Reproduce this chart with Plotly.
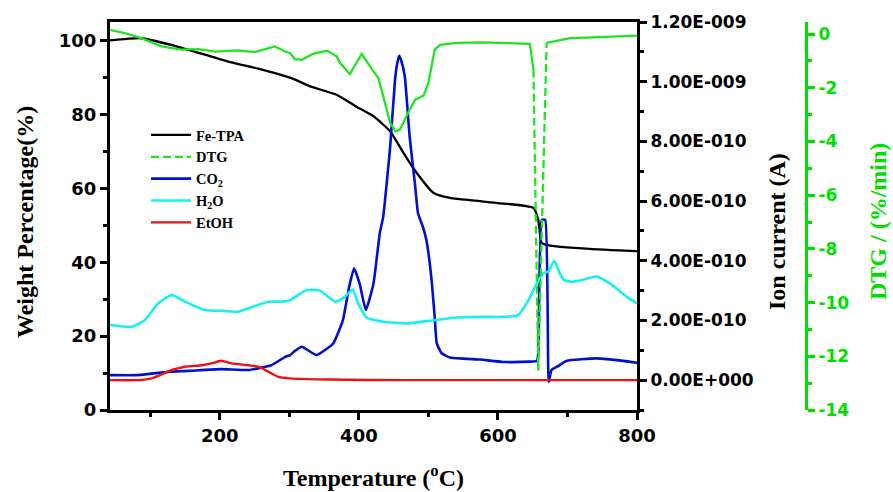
import plotly.graph_objects as go

# ---------------- data ----------------
# TGA weight loss of Fe-TPA (left axis, %)
tga_temp = [42, 87, 130, 212, 255, 303, 330, 368, 397, 421, 445, 464, 483, 507, 531, 574,
            600, 651, 658, 663, 675, 752, 800]
tga_weight = [100.0, 100.6, 98.8, 94.3, 92.4, 89.8, 87.6, 85.3, 82.0, 79.5, 75.4, 69.6, 64.2,
              58.8, 57.4, 56.5, 56.0, 54.7, 51.5, 45.2, 44.5, 43.4, 43.0]

# DTG (far right axis, %/min)
dtg_temp = [42, 63, 87, 116, 145, 169, 193, 226, 250, 279, 294, 301, 308, 318, 334, 354, 368,
            373, 387, 404, 421, 428, 440, 445, 453, 459, 466, 473, 481, 493, 500, 509, 517, 541,
            574, 646, 651, 658, 670, 704, 747, 800]
dtg_rate = [0.16, 0.04, -0.15, -0.46, -0.58, -0.56, -0.65, -0.61, -0.67, -0.46, -0.65, -0.71,
            -0.93, -0.96, -0.74, -0.62, -0.83, -1.08, -1.49, -0.74, -1.39, -1.64, -2.81, -3.31,
            -3.62, -3.56, -3.19, -2.81, -2.44, -2.29, -1.82, -0.58, -0.40, -0.33, -0.31, -0.36,
            -1.33, -12.54, -0.33, -0.15, -0.11, -0.06]
# the sharp DTG peak is drawn dashed between these temperatures
dtg_dash_start, dtg_dash_end = 651, 670

# MS ion currents (right axis), in units of 1e-10 A
co2_temp = [42, 82, 126, 154, 202, 241, 274, 294, 301, 308, 318, 339, 363, 377, 386, 393, 401,
            410, 421, 430, 435, 445, 452, 455, 458, 461, 466, 473, 481, 485, 492, 497, 502, 505,
            509, 512, 519, 531, 574, 608, 646, 656, 658, 663, 668, 673, 677, 685, 699, 742, 771,
            800]
co2_ion = [0.17, 0.17, 0.28, 0.31, 0.37, 0.34, 0.50, 0.78, 0.84, 0.98, 1.12, 0.84, 1.23, 2.01,
           3.13, 3.75, 3.24, 2.35, 3.24, 4.92, 5.48, 7.83, 10.07, 10.6, 10.87, 10.7, 10.18, 8.16,
           6.49, 5.59, 5.14, 4.70, 3.90, 3.24, 2.12, 1.23, 0.90, 0.76, 0.69, 0.61, 0.62, 0.64,
           0.90, 5.37, 5.37, -0.06, 0.34, 0.45, 0.65, 0.73, 0.67, 0.58]

h2o_temp = [42, 73, 92, 111, 131, 150, 178, 207, 226, 250, 270, 289, 301, 325, 344, 366, 380,
            391, 399, 411, 435, 469, 502, 541, 574, 608, 629, 644, 651, 665, 673, 681, 689, 695,
            704, 720, 742, 761, 785, 800]
h2o_ion = [1.85, 1.79, 2.01, 2.57, 2.85, 2.63, 2.35, 2.32, 2.29, 2.48, 2.63, 2.63, 2.68, 3.02,
           3.00, 2.63, 2.80, 3.04, 2.57, 2.10, 1.96, 1.90, 1.99, 2.10, 2.12, 2.12, 2.18, 2.68,
           3.02, 3.58, 3.65, 4.00, 3.58, 3.36, 3.30, 3.35, 3.47, 3.24, 2.80, 2.57]

etoh_temp = [42, 82, 102, 131, 150, 174, 188, 202, 217, 241, 255, 270, 284, 301, 358, 459, 800]
etoh_ion = [0.0, 0.0, 0.06, 0.34, 0.45, 0.50, 0.56, 0.65, 0.56, 0.50, 0.45, 0.28, 0.11, 0.06,
            0.02, 0.0, 0.0]
ION_UNIT = 1e-10

# axis ticks
temp_ticks = [200, 400, 600, 800]
weight_ticks = [0, 20, 40, 60, 80, 100]
ion_ticks = [0, 2e-10, 4e-10, 6e-10, 8e-10, 1e-9, 1.2e-9]
ion_tick_text = ["0.00E+000", "2.00E-010", "4.00E-010", "6.00E-010", "8.00E-010",
                 "1.00E-009", "1.20E-009"]
dtg_ticks = [0, -2, -4, -6, -8, -10, -12, -14]
dtg_tick_text = ["0", "-2", "-4", "-6", "-8", "-10", "-12", "-14"]

# ---------------- styling ----------------
GREEN = "#1fe41f"
AXIS_GREEN = "#00e000"
BLUE = "#0010d0"
CYAN = "#18f0f0"
RED = "#ee1111"
SERIF = "Liberation Serif"
SANS = "DejaVu Sans"


def to_amp(vals):
    return [v * ION_UNIT for v in vals]


fig = go.Figure()

fig.add_trace(go.Scatter(x=tga_temp, y=tga_weight, name="Fe-TPA", mode="lines",
                         line=dict(color="black", width=2.3, shape="spline", smoothing=0.5),
                         xaxis="x", yaxis="y"))

i0 = dtg_temp.index(dtg_dash_start)
i1 = dtg_temp.index(dtg_dash_end)
fig.add_trace(go.Scatter(x=dtg_temp[i0:i1 + 1], y=dtg_rate[i0:i1 + 1], name="DTG", mode="lines",
                         line=dict(color=GREEN, width=2.3, dash="8px,4px"),
                         xaxis="x", yaxis="y3"))

fig.add_trace(go.Scatter(x=co2_temp, y=to_amp(co2_ion), name="CO<sub>2</sub>", mode="lines",
                         line=dict(color=BLUE, width=2.6, shape="spline", smoothing=0.4),
                         xaxis="x", yaxis="y2"))
fig.add_trace(go.Scatter(x=h2o_temp, y=to_amp(h2o_ion), name="H<sub>2</sub>O", mode="lines",
                         line=dict(color=CYAN, width=2.6, shape="spline", smoothing=0.5),
                         xaxis="x", yaxis="y2"))
fig.add_trace(go.Scatter(x=etoh_temp, y=to_amp(etoh_ion), name="EtOH", mode="lines",
                         line=dict(color=RED, width=2.4, shape="spline", smoothing=0.5),
                         xaxis="x", yaxis="y2"))

# solid parts of the DTG curve on either side of the sharp peak
for seg in (slice(0, i0 + 1), slice(i1, None)):
    fig.add_trace(go.Scatter(x=dtg_temp[seg], y=dtg_rate[seg], mode="lines", showlegend=False,
                             line=dict(color=GREEN, width=2.3), xaxis="x", yaxis="y3"))

# ---------------- layout ----------------
L, R, T, B = 110, 87, 22, 82
W, H = 893, 492
plot_w = W - L - R
plot_h = H - T - B
x_end = (637 - L) / plot_w

tick_font = dict(family=SANS, size=18, color="black", weight="bold")
tick_font_r = dict(family=SANS, size=17, color="black", weight="bold")

fig.update_layout(
    width=W, height=H,
    margin=dict(l=L, r=R, t=T, b=B),
    plot_bgcolor="white", paper_bgcolor="white",
    legend=dict(x=(146 - L) / plot_w, y=1 - (119 - T) / plot_h, xanchor="left", yanchor="top",
                bgcolor="rgba(0,0,0,0)", itemwidth=40, tracegroupgap=0,
                font=dict(family=SERIF, size=14.5, color="black", weight="bold")),
    xaxis=dict(domain=[0, x_end], range=[42, 800], tickmode="array", tickvals=temp_ticks,
               ticks="outside", ticklen=7, tickwidth=2.5, tickcolor="black",
               showline=True, linewidth=3, linecolor="black", mirror=True,
               showgrid=False, zeroline=False, tickfont=tick_font,
               minor=dict(dtick=100, tick0=0, ticks="outside", ticklen=4, tickwidth=2.5,
                          tickcolor="black")),
    yaxis=dict(range=[0, 105], tickmode="array", tickvals=weight_ticks,
               ticks="outside", ticklen=7, tickwidth=2.5, tickcolor="black",
               showline=True, linewidth=3, linecolor="black",
               showgrid=False, zeroline=False, tickfont=tick_font,
               minor=dict(dtick=10, tick0=0, ticks="outside", ticklen=4, tickwidth=2.5,
                          tickcolor="black")),
    yaxis2=dict(overlaying="y", side="right", anchor="x", range=[-1e-10, 1.2e-9],
                tickmode="array", tickvals=ion_ticks, ticktext=ion_tick_text,
                ticks="outside", ticklen=7, tickwidth=2.5, tickcolor="black",
                showline=True, linewidth=3, linecolor="black",
                showgrid=False, zeroline=False, tickfont=tick_font_r,
                minor=dict(dtick=1e-10, tick0=0, ticks="outside", ticklen=4, tickwidth=2.5,
                           tickcolor="black")),
    yaxis3=dict(overlaying="y", side="right", anchor="free", position=1.0, range=[-14, 0.45],
                tickmode="array", tickvals=dtg_ticks, ticktext=dtg_tick_text,
                ticks="outside", ticklen=7, tickwidth=2.5, tickcolor=AXIS_GREEN,
                showline=True, linewidth=3, linecolor=AXIS_GREEN,
                showgrid=False, zeroline=False,
                tickfont=dict(family=SANS, size=17, color=AXIS_GREEN, weight="bold"),
                minor=dict(dtick=1, tick0=0, ticks="outside", ticklen=4, tickwidth=2.5,
                           tickcolor=AXIS_GREEN)),
)


def px_x(px):
    return (px - L) / plot_w


def px_y(py):
    return 1 - (py - T) / plot_h


title_font = dict(family=SERIF, size=24, color="black", weight="bold")
annos = [
    dict(text="Weight Percentage(%)", x=px_x(25), y=px_y(222), textangle=-90, font=title_font),
    dict(text="Ion current (A)", x=px_x(777), y=px_y(232), textangle=-90, font=title_font),
    dict(text="DTG / (%/min)", x=px_x(878), y=px_y(222), textangle=-90,
         font=dict(family=SERIF, size=24, color=AXIS_GREEN, weight="bold")),
    dict(text="Temperature (<sup>o</sup>C)", x=px_x(373), y=px_y(476), font=title_font),
]
for a in annos:
    fig.add_annotation(xref="paper", yref="paper", xanchor="center", yanchor="middle",
                       showarrow=False, **a)

fig.write_html("out.html")
